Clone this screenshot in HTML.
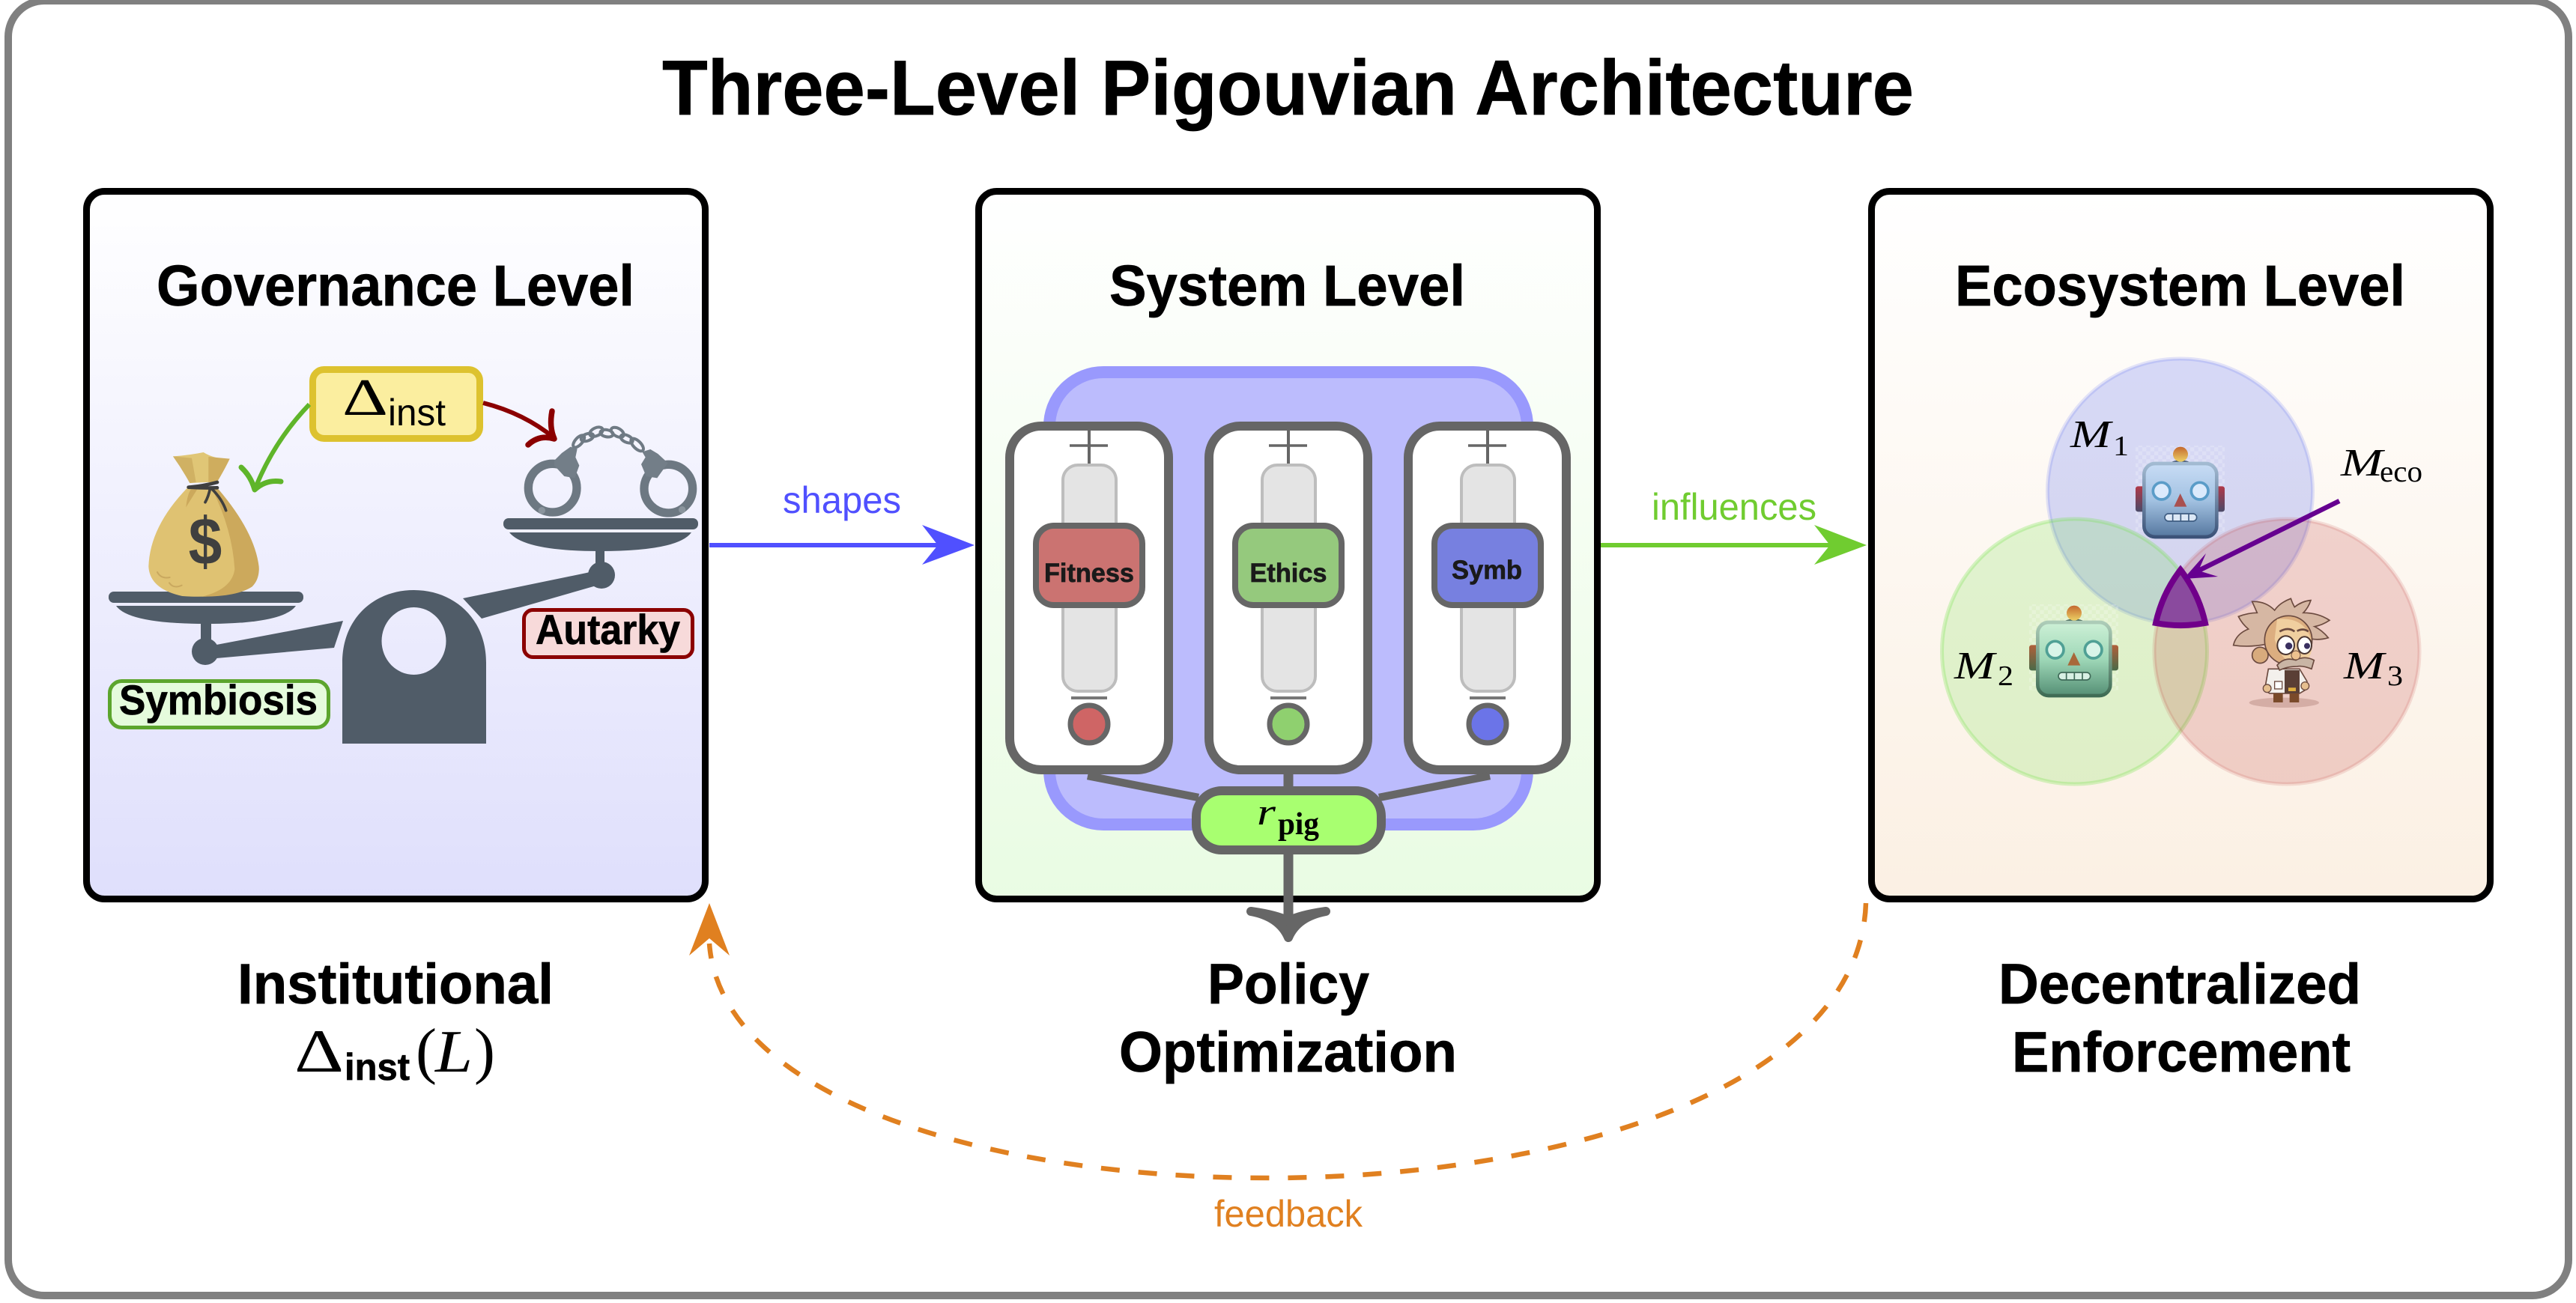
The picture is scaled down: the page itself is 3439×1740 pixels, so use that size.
<!DOCTYPE html>
<html><head><meta charset="utf-8"><title>Three-Level Pigouvian Architecture</title>
<style>html,body{margin:0;padding:0;background:#fff}svg{display:block}
.b{font-family:"Liberation Sans",sans-serif;font-weight:700;stroke:currentColor;stroke-width:.7}
.r{font-family:"Liberation Sans",sans-serif}
.m{font-family:"Liberation Serif",serif}
.mi{font-family:"Liberation Serif",serif;font-style:italic}
</style></head><body>
<svg xmlns="http://www.w3.org/2000/svg" width="3439" height="1740" viewBox="0 0 3439 1740">
<defs>
<linearGradient id="g1" x1="0" y1="0" x2="0" y2="1"><stop offset="0" stop-color="#ffffff"/><stop offset="1" stop-color="#dfdffc"/></linearGradient>
<linearGradient id="g2" x1="0" y1="0" x2="0" y2="1"><stop offset="0" stop-color="#ffffff"/><stop offset="1" stop-color="#e9fce3"/></linearGradient>
<linearGradient id="g3" x1="0" y1="0" x2="0" y2="1"><stop offset="0" stop-color="#ffffff"/><stop offset="1" stop-color="#fbf0e3"/></linearGradient>
<linearGradient id="hb" x1="0" y1="0" x2="0" y2="1"><stop offset="0" stop-color="#c8dcf5"/><stop offset=".5" stop-color="#a3c2e2"/><stop offset="1" stop-color="#55779f"/></linearGradient>
<linearGradient id="hbs" x1="0" y1="0" x2="0" y2="1"><stop offset="0" stop-color="#a3bbd2"/><stop offset="1" stop-color="#3b5278"/></linearGradient>
<linearGradient id="eb" x1="0" y1="0" x2="0" y2="1"><stop offset="0" stop-color="#b03848"/><stop offset="1" stop-color="#4a4a68"/></linearGradient>
<linearGradient id="hg" x1="0" y1="0" x2="0" y2="1"><stop offset="0" stop-color="#cdf0d6"/><stop offset=".5" stop-color="#9fd8b8"/><stop offset="1" stop-color="#558f75"/></linearGradient>
<linearGradient id="hgs" x1="0" y1="0" x2="0" y2="1"><stop offset="0" stop-color="#adccb8"/><stop offset="1" stop-color="#3f6c55"/></linearGradient>
<linearGradient id="eg" x1="0" y1="0" x2="0" y2="1"><stop offset="0" stop-color="#b0603a"/><stop offset="1" stop-color="#4a6a48"/></linearGradient>
<linearGradient id="ball" x1="0" y1="0" x2="0" y2="1"><stop offset="0" stop-color="#c4682e"/><stop offset="1" stop-color="#ecd065"/></linearGradient>
<pattern id="chk" width="32" height="32" patternUnits="userSpaceOnUse"><rect width="16" height="16" fill="#ffffff" opacity=".22"/><rect x="16" y="16" width="16" height="16" fill="#ffffff" opacity=".22"/></pattern>
</defs>

<rect width="3439" height="1740" fill="#fff"/>
<rect x="11" y="1" width="3418" height="1729" rx="48" ry="48" fill="#fff" stroke="#808080" stroke-width="10"/>

<text class="b" x="884" y="153" font-size="104" textLength="1671" lengthAdjust="spacingAndGlyphs" style="color:#000">Three-Level Pigouvian Architecture</text>

<!-- panels -->
<rect x="115.5" y="255.5" width="826" height="945" rx="24" fill="url(#g1)" stroke="#000" stroke-width="9"/>
<rect x="1306.5" y="255.5" width="826" height="945" rx="24" fill="url(#g2)" stroke="#000" stroke-width="9"/>
<rect x="2498.5" y="255.5" width="826" height="945" rx="24" fill="url(#g3)" stroke="#000" stroke-width="9"/>

<g style="color:#000">
<text class="b" x="209" y="408" font-size="77" textLength="638" lengthAdjust="spacingAndGlyphs">Governance Level</text>
<text class="b" x="1481" y="408" font-size="77" textLength="475" lengthAdjust="spacingAndGlyphs">System Level</text>
<text class="b" x="2610" y="408" font-size="77" textLength="601" lengthAdjust="spacingAndGlyphs">Ecosystem Level</text>
</g>

<!-- Scale -->
<g fill="#505c68">
<path fill-rule="evenodd" d="M457 993 L457 885 C457 825 500 788 552.5 788 C605 788 649 825 649 885 L649 993 Z M509.5 856 a43 45 0 1 0 86 0 a43 45 0 1 0 -86 0 Z"/>
<path d="M618 799 L783 765 L803 760 L803 780 L643 826 Z"/>
<circle cx="803" cy="768" r="18"/>
<rect x="795" y="734" width="12" height="30"/>
<rect x="672" y="692" width="260" height="15" rx="7"/>
<path d="M680 711 L923 711 Q905 736 801 736 Q700 736 680 711 Z"/>
<path d="M458 829 L289 861 L272 870 L289 879 L446 865 Z"/>
<circle cx="274" cy="870" r="18"/>
<rect x="268" y="832" width="14" height="34"/>
<rect x="145" y="790" width="260" height="15" rx="7"/>
<path d="M155 809 L395 809 Q378 833 275 833 Q172 833 155 809 Z"/>
</g>

<!-- Money bag -->
<g transform="translate(150,590) scale(.3333)">
<path d="M300 185 Q150 340 145 500 Q150 590 280 618 Q370 625 460 612 Q585 585 587 510 Q580 390 425 190 Z" fill="#dfc272"/>
<path d="M400 190 Q480 350 490 510 Q480 590 360 620 Q500 620 560 580 Q590 550 587 500 Q570 360 425 190 Z" fill="#cca95c"/>
<path d="M243 58 Q300 55 365 42 Q410 70 470 68 Q450 110 420 160 L310 165 Q280 110 243 58 Z" fill="#e0c676"/>
<path d="M243 58 L318 65 L335 162 L310 165 Q280 110 243 58 Z" fill="#d0b163"/>
<path d="M385 60 L470 68 Q450 110 420 160 L385 162 Z" fill="#cfad5e"/>
<path d="M340 190 L295 262 Q300 210 315 190 Z" fill="#cca95c"/>
<path d="M305 182 Q360 178 420 162 M305 182 Q360 186 420 184" stroke="#3f3f3f" stroke-width="14" fill="none" stroke-linecap="round"/>
<path d="M392 185 Q385 220 372 242 M398 188 Q440 230 455 275" stroke="#3f3f3f" stroke-width="11" fill="none" stroke-linecap="round"/>
<path d="M180 522 Q195 550 230 543 M228 565 Q245 590 278 575" stroke="#c9a85f" stroke-width="6" fill="none" stroke-linecap="round"/>
<text x="305" y="490" font-family="Liberation Sans, sans-serif" font-weight="700" font-size="267" textLength="134" lengthAdjust="spacingAndGlyphs" fill="#3f3f3f">$</text>
</g>

<!-- Handcuffs -->
<g transform="translate(640,480) scale(.3333)">
<g fill="none" stroke="#6f7a84" stroke-width="12">
<ellipse cx="398" cy="328" rx="30" ry="14" transform="rotate(-48 398 328)"/>
<ellipse cx="432" cy="312" rx="26" ry="14" transform="rotate(-20 432 312)"/>
<ellipse cx="468" cy="290" rx="28" ry="16" transform="rotate(-25 468 290)"/>
<ellipse cx="510" cy="296" rx="26" ry="14" transform="rotate(10 510 296)"/>
<ellipse cx="553" cy="292" rx="28" ry="16" transform="rotate(30 553 292)"/>
<ellipse cx="590" cy="318" rx="26" ry="14" transform="rotate(25 590 318)"/>
<ellipse cx="632" cy="342" rx="32" ry="15" transform="rotate(45 632 342)"/>
</g>
<circle cx="293" cy="515" r="97" fill="none" stroke="#6d7882" stroke-width="34"/>
<circle cx="757" cy="518" r="97" fill="none" stroke="#6d7882" stroke-width="34"/>
<path d="M300 405 L330 375 L365 350 L392 358 L385 392 L400 425 L382 475 L340 468 L300 425 Z" fill="#737e88"/>
<path d="M755 415 L715 378 L685 360 L652 370 L665 392 L648 420 L668 468 L712 475 Z" fill="#737e88"/>
<circle cx="250" cy="605" r="14" fill="#8a949d"/><circle cx="812" cy="602" r="14" fill="#8a949d"/>
</g>

<!-- delta box -->
<rect x="417.5" y="493.5" width="223" height="92" rx="15" fill="#fbee9f" stroke="#ddc22f" stroke-width="9"/>
<text class="m" x="457" y="554" font-size="70" textLength="61" lengthAdjust="spacingAndGlyphs">Δ</text>
<text class="r" x="518" y="568" font-size="50" textLength="77" lengthAdjust="spacingAndGlyphs">inst</text>

<path d="M413 540 Q365 590 340 654" fill="none" stroke="#5fb52a" stroke-width="6"/>
<path d="M322 624 Q335 636 340 654 Q355 640 375 643" fill="none" stroke="#5fb52a" stroke-width="7" stroke-linecap="round" stroke-linejoin="round"/>
<path d="M645 538 Q700 552 740 585" fill="none" stroke="#8b0000" stroke-width="6"/>
<path d="M737 549 Q733 570 740 586 Q720 580 705 594" fill="none" stroke="#8b0000" stroke-width="7.5" stroke-linecap="round" stroke-linejoin="round"/>

<rect x="146.5" y="909.5" width="292" height="62" rx="16" fill="#e5fbdc" stroke="#5ca52d" stroke-width="5"/>
<text class="b" x="159" y="954" font-size="56" textLength="265" lengthAdjust="spacingAndGlyphs" style="color:#000">Symbiosis</text>
<rect x="699.5" y="814.5" width="225" height="63" rx="12" fill="#f7dada" stroke="#8b0000" stroke-width="5"/>
<text class="b" x="715" y="860" font-size="56" textLength="193" lengthAdjust="spacingAndGlyphs" style="color:#000">Autarky</text>

<!-- System level -->
<rect x="1401" y="497" width="638" height="604" rx="72" fill="#bcbcfd" stroke="#9999fd" stroke-width="16"/>

<g id="mods">
<rect x="1348" y="569" width="212" height="459" rx="42" fill="#fff" stroke="#666" stroke-width="12"/>
<rect x="1614" y="569" width="212" height="459" rx="42" fill="#fff" stroke="#666" stroke-width="12"/>
<rect x="1880" y="569" width="211" height="459" rx="42" fill="#fff" stroke="#666" stroke-width="12"/>
</g>
<g stroke="#666" fill="none">
<path d="M1428 595 H1479 M1694 595 H1745 M1960 595 H2011" stroke-width="3.5"/>
<path d="M1454 574 V622 M1720 574 V622 M1986 574 V622" stroke-width="4"/>
</g>
<g fill="#e4e4e4" stroke="#bdbdbd" stroke-width="4">
<rect x="1419" y="621" width="71" height="302" rx="20"/>
<rect x="1685" y="621" width="71" height="302" rx="20"/>
<rect x="1951" y="621" width="71" height="302" rx="20"/>
</g>
<path d="M1430 932 H1478 M1696 932 H1744 M1962 932 H2010" stroke="#777" stroke-width="4"/>
<g stroke="#666" stroke-width="7">
<circle cx="1454" cy="967" r="25" fill="#cf6565"/>
<circle cx="1720" cy="967" r="25" fill="#8fd06f"/>
<circle cx="1986" cy="967" r="25" fill="#6b74e8"/>
</g>
<g stroke="#666" stroke-width="8">
<rect x="1383" y="702" width="142" height="106" rx="24" fill="#cb7371"/>
<rect x="1649" y="702" width="142" height="106" rx="24" fill="#95c97d"/>
<rect x="1915" y="702" width="142" height="106" rx="24" fill="#7780e0"/>
</g>
<g font-size="35" style="color:#1a1a1a" fill="#1a1a1a">
<text class="b" x="1394" y="777" textLength="120" lengthAdjust="spacingAndGlyphs">Fitness</text>
<text class="b" x="1668.5" y="777" textLength="103" lengthAdjust="spacingAndGlyphs">Ethics</text>
<text class="b" x="1938" y="773" textLength="94" lengthAdjust="spacingAndGlyphs">Symb</text>
</g>
<path d="M1452 1036 L1600 1065 M1989 1036 L1841 1065" stroke="#666" stroke-width="10.5" fill="none"/>
<path d="M1720 1030 V1060" stroke="#666" stroke-width="13" fill="none"/>
<path d="M1720 1135 V1240" stroke="#666" stroke-width="13" fill="none"/>
<path d="M1670 1217 Q1708 1224 1720 1252 Q1732 1224 1770 1217 Q1735 1222 1720 1230 Q1705 1222 1670 1217 Z" fill="#666" stroke="#666" stroke-width="12" stroke-linejoin="round"/>
<rect x="1597" y="1056" width="247" height="79" rx="34" fill="#a8ff70" stroke="#666" stroke-width="12"/>
<text class="mi" x="1678" y="1101" font-size="50" textLength="25" lengthAdjust="spacingAndGlyphs">r</text>
<text class="m" font-weight="700" x="1706" y="1114" font-size="42" textLength="55" lengthAdjust="spacingAndGlyphs">pig</text>

<!-- Venn -->
<circle cx="2910.5" cy="656" r="177" fill="#3750f2" fill-opacity=".2" stroke="#3750f2" stroke-opacity=".14" stroke-width="5"/>
<circle cx="2769.5" cy="870" r="177" fill="#6ee146" fill-opacity=".2" stroke="#6ee146" stroke-opacity=".28" stroke-width="5"/>
<circle cx="3053" cy="870" r="177" fill="#c03739" fill-opacity=".2" stroke="#c03739" stroke-opacity=".14" stroke-width="5"/>

<!-- Robot 1 -->
<g transform="translate(2780,560) scale(.3333)">
<rect x="213" y="105" width="357" height="345" fill="url(#chk)"/>
<rect x="213" y="268" width="357" height="102" rx="10" fill="url(#eb)"/>
<ellipse cx="393" cy="175" rx="38" ry="11" fill="#2c3e60"/>
<circle cx="393" cy="140" r="30" fill="url(#ball)"/>
<rect x="247" y="177" width="291" height="294" rx="44" fill="url(#hb)" stroke="url(#hbs)" stroke-width="14"/>
<circle cx="317" cy="287" r="34" fill="#dbeafc" stroke="#5a9cc8" stroke-width="11"/>
<circle cx="470" cy="287" r="34" fill="#dbeafc" stroke="#5a9cc8" stroke-width="11"/>
<path d="M392 297 L367 350 L418 350 Z" fill="#a9504f"/>
<rect x="330" y="378" width="128" height="30" rx="15" fill="#dce8f6" stroke="#3f5d82" stroke-width="5"/>
<path d="M362 378 V408 M394 378 V408 M426 378 V408" stroke="#3f5d82" stroke-width="5"/>
</g>
<!-- Robot 2 -->
<g transform="translate(2638,772) scale(.3333)">
<rect x="213" y="105" width="357" height="345" fill="url(#chk)"/>
<rect x="213" y="268" width="357" height="102" rx="10" fill="url(#eg)"/>
<ellipse cx="393" cy="175" rx="38" ry="11" fill="#2c4a40"/>
<circle cx="393" cy="140" r="30" fill="url(#ball)"/>
<rect x="247" y="177" width="291" height="294" rx="44" fill="url(#hg)" stroke="url(#hgs)" stroke-width="14"/>
<circle cx="317" cy="287" r="34" fill="#d8f4e8" stroke="#4fa095" stroke-width="11"/>
<circle cx="470" cy="287" r="34" fill="#d8f4e8" stroke="#4fa095" stroke-width="11"/>
<path d="M392 297 L367 350 L418 350 Z" fill="#a8683a"/>
<rect x="330" y="378" width="128" height="30" rx="15" fill="#d8f0e4" stroke="#3f6a58" stroke-width="5"/>
<path d="M362 378 V408 M394 378 V408 M426 378 V408" stroke="#3f6a58" stroke-width="5"/>
</g>
<!-- Einstein -->
<g transform="translate(2780,560) scale(.3333)">
<ellipse cx="808" cy="1135" rx="140" ry="20" fill="#c9a097" opacity=".7"/>
<path d="M700 775 L680 730 Q735 728 770 765 Q790 735 835 718 Q840 735 850 752 Q880 728 915 725 Q905 755 885 775 Q945 775 990 805 Q960 825 930 830 Q960 845 985 875 Q950 885 920 880 L740 900 Q670 915 605 905 Q615 860 665 840 Q640 820 625 790 Q665 775 700 775 Z" fill="#d6b7a3" stroke="#6b4a3f" stroke-width="5"/>
<circle cx="712" cy="945" r="32" fill="#d8ab7d" stroke="#6b4a3f" stroke-width="5"/>
<ellipse cx="825" cy="885" rx="95" ry="98" fill="#dcae80" stroke="#6b4a3f" stroke-width="5"/>
<path d="M780 800 Q900 790 920 900 Q920 980 850 985 Q790 960 770 880 Z" fill="#f0cf9f"/>
<path d="M790 850 Q825 830 850 850 M860 848 Q885 835 905 850" stroke="#6b4a3f" stroke-width="8" fill="none"/>
<ellipse cx="815" cy="905" rx="34" ry="37" fill="#fff" stroke="#4a3530" stroke-width="6"/>
<ellipse cx="890" cy="905" rx="28" ry="34" fill="#fff" stroke="#4a3530" stroke-width="6"/>
<circle cx="827" cy="908" r="14" fill="#3a3060"/><circle cx="900" cy="908" r="12" fill="#3a3060"/>
<path d="M745 1000 L812 1000 L870 1000 L900 1050 L892 1085 L870 1098 L750 1098 L730 1085 Z" fill="#f3f0ec" stroke="#6b4a3f" stroke-width="5"/>
<rect x="810" y="1005" width="60" height="92" fill="#5a3f35"/>
<rect x="825" y="1075" width="30" height="14" fill="#e0b040"/>
<rect x="770" y="1050" width="30" height="30" fill="#fff" stroke="#6b4a3f" stroke-width="4"/>
<rect x="765" y="1098" width="38" height="36" fill="#7a4a2a"/><rect x="830" y="1098" width="38" height="36" fill="#7a4a2a"/>
<circle cx="740" cy="1078" r="16" fill="#e6bf8f" stroke="#6b4a3f" stroke-width="4"/><circle cx="892" cy="1068" r="16" fill="#e6bf8f" stroke="#6b4a3f" stroke-width="4"/>
<path d="M780 985 Q810 950 855 965 Q890 945 928 965 L918 1000 Q880 985 860 990 Q820 990 790 1005 Z" fill="#c9b5a5" stroke="#6b4a3f" stroke-width="5"/>
<circle cx="855" cy="945" r="18" fill="#eec18f" stroke="#6b4a3f" stroke-width="3"/>
</g>

<!-- Purple region -->
<path d="M2911 761 A179 179 0 0 0 2878 832 A179 179 0 0 0 2944 832 A179 179 0 0 0 2911 761 Z" fill="#8a4a9e" stroke="#70008a" stroke-width="8" stroke-linejoin="miter"/>
<path d="M3123 669 L2935 762" stroke="#660090" stroke-width="6.5" fill="none"/>
<path d="M2915 773 L2945 739 L2935 762 L2961 770 Z" fill="#660090"/>

<g class="mi" fill="#000" font-size="52">
<text x="2764" y="597" textLength="54" lengthAdjust="spacingAndGlyphs">M</text>
<text x="2609" y="906" textLength="54" lengthAdjust="spacingAndGlyphs">M</text>
<text x="3129" y="906" textLength="54" lengthAdjust="spacingAndGlyphs">M</text>
<text x="3125" y="635" textLength="56" lengthAdjust="spacingAndGlyphs">M</text>
</g>
<g class="m" fill="#000" font-size="38">
<text x="2821" y="608" textLength="21" lengthAdjust="spacingAndGlyphs">1</text>
<text x="2667" y="915" textLength="21" lengthAdjust="spacingAndGlyphs">2</text>
<text x="3187" y="915" textLength="21" lengthAdjust="spacingAndGlyphs">3</text>
<text x="3177" y="643" font-size="40" textLength="57" lengthAdjust="spacingAndGlyphs">eco</text>
</g>

<!-- Connectors -->
<path d="M947 728 H1255" stroke="#5050ff" stroke-width="6"/>
<path d="M1301 728 L1231 701 L1252 728 L1231 754 Z" fill="#5050ff"/>
<text class="r" x="1045" y="685" font-size="50" fill="#5050ff" textLength="158" lengthAdjust="spacingAndGlyphs">shapes</text>

<path d="M2137 728 H2445" stroke="#70cc30" stroke-width="6"/>
<path d="M2492 728 L2422 701 L2443 728 L2422 754 Z" fill="#70cc30"/>
<text class="r" x="2205" y="694" font-size="50" fill="#70cc30" textLength="220" lengthAdjust="spacingAndGlyphs">influences</text>

<path d="M2491 1206 C2475 1686 978 1686 947 1260" fill="none" stroke="#e08020" stroke-width="6.5" stroke-dasharray="25 25"/>
<path d="M947 1206 L920 1276 L947 1253 L974 1276 Z" fill="#e08020"/>
<text class="r" x="1621" y="1638" font-size="50" fill="#e08020" textLength="198" lengthAdjust="spacingAndGlyphs">feedback</text>

<!-- Bottom labels -->
<g font-size="76" style="color:#000">
<text class="b" x="317" y="1340" textLength="422" lengthAdjust="spacingAndGlyphs">Institutional</text>
<text class="b" x="1612" y="1340" textLength="216" lengthAdjust="spacingAndGlyphs">Policy</text>
<text class="b" x="1494" y="1431" textLength="451" lengthAdjust="spacingAndGlyphs">Optimization</text>
<text class="b" x="2668" y="1340" textLength="484" lengthAdjust="spacingAndGlyphs">Decentralized</text>
<text class="b" x="2686" y="1431" textLength="452" lengthAdjust="spacingAndGlyphs">Enforcement</text>
</g>
<text class="m" x="393" y="1431" font-size="82" textLength="66" lengthAdjust="spacingAndGlyphs">Δ</text>
<text class="b" x="460" y="1442" font-size="50" textLength="87" lengthAdjust="spacingAndGlyphs" style="color:#000">inst</text>
<text class="m" x="555" y="1431" font-size="84" font-weight="400">(</text>
<text class="mi" x="581" y="1431" font-size="80" textLength="50" lengthAdjust="spacingAndGlyphs">L</text>
<text class="m" x="633" y="1431" font-size="84">)</text>
</svg>
</body></html>
